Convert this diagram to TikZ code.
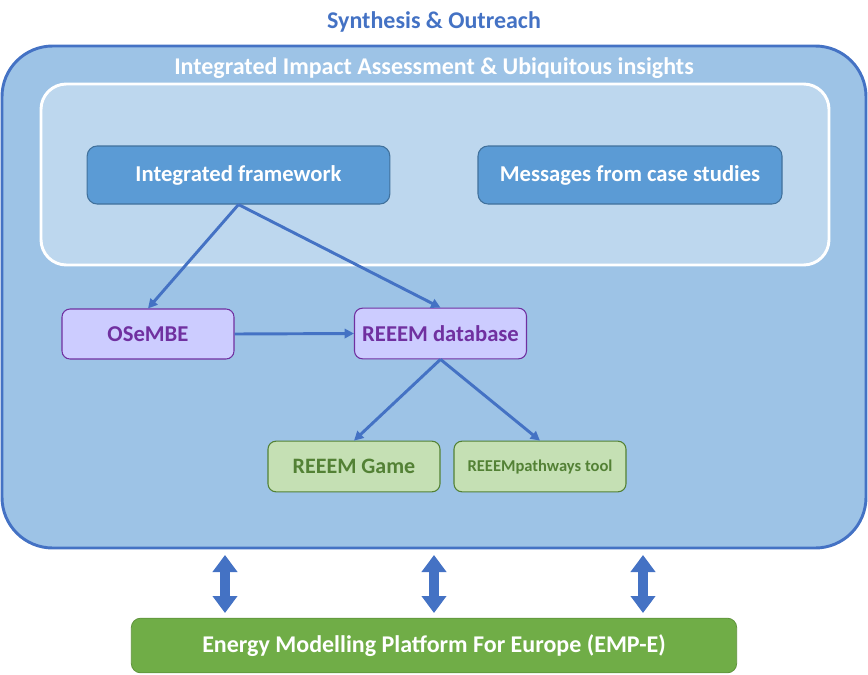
\documentclass[tikz,border=0pt]{standalone}
\usepackage{fontspec}
\setmainfont{Carlito}
\usetikzlibrary{arrows.meta}
\definecolor{outerfill}{HTML}{9DC3E6}
\definecolor{outerline}{HTML}{4472C4}
\definecolor{innerfill}{HTML}{BDD7EE}
\definecolor{bluebox}{HTML}{5B9BD5}
\definecolor{blueline}{HTML}{41719C}
\definecolor{purpfill}{HTML}{CCCCFF}
\definecolor{purpline}{HTML}{7030A0}
\definecolor{greenfill}{HTML}{C5E0B4}
\definecolor{greenline}{HTML}{538135}
\definecolor{empfill}{HTML}{70AD47}
\tikzset{
  bluenode/.style={draw=blueline, fill=bluebox, rounded corners=7.5pt, line width=0.8pt, text=white, font=\bfseries\fontsize{17}{20}\selectfont},
  purpnode/.style={draw=purpline, fill=purpfill, rounded corners=6pt, line width=0.8pt, text=purpline, font=\bfseries\fontsize{17}{20}\selectfont},
  greennode/.style={draw=greenline, fill=greenfill, rounded corners=6pt, line width=0.8pt, text=greenline, font=\bfseries\fontsize{16.5}{20}\selectfont},
  conn/.style={draw=outerline, line width=2.2pt, -{Triangle[length=7pt,width=7pt]}},
  fatarrow/.style={draw=outerline, line width=7.5pt, {Triangle[length=12.75pt,width=18pt]}-{Triangle[length=12.75pt,width=18pt]}}
}
\begin{document}
\begin{tikzpicture}[x=0.75pt,y=-0.75pt]
\useasboundingbox (0,0) rectangle (868,675);
\node[font=\bfseries\fontsize{18}{21}\selectfont, text=outerline] (title) at (434,22) {Synthesis \& Outreach};
\draw[draw=outerline, fill=outerfill, line width=2.2pt, rounded corners=38pt] (2,46) rectangle (866,548);
\node[font=\bfseries\fontsize{18}{21}\selectfont, text=white] (iia) at (434,68) {Integrated Impact Assessment \& Ubiquitous insights};
\draw[draw=white, fill=innerfill, line width=2.2pt, rounded corners=19pt] (41,84) rectangle (829,265);
\node[bluenode, minimum width=227pt, minimum height=43.5pt] (ifw) at (238.5,175) {Integrated framework};
\node[bluenode, minimum width=228pt, minimum height=43.5pt] (msg) at (630,175) {Messages from case studies};
\node[purpnode, minimum width=129pt, minimum height=37.5pt] (osembe) at (148,334) {OSeMBE};
\node[purpnode, minimum width=129pt, minimum height=38pt] (db) at (440.5,333.5) {REEEM database};
\node[greennode, minimum width=129pt, minimum height=38pt] (game) at (354,466.5) {REEEM Game};
\node[greennode, minimum width=129pt, minimum height=38pt, font=\bfseries\fontsize{12.4}{15}\selectfont] (path) at (540,466.5) {REEEMpathways tool};
\node[draw=empfill!85!black, fill=empfill, rounded corners=7pt, line width=0.6pt, minimum width=454pt, minimum height=41pt, text=white, font=\bfseries\fontsize{18}{21}\selectfont] (emp) at (434,645.5) {Energy Modelling Platform For Europe (EMP-E)};
\draw[conn] (ifw.south) -- (osembe.north);
\draw[conn] (ifw.south) -- (db.north);
\draw[conn] (osembe.east) -- (db.west);
\draw[conn] (db.south) -- (game.north);
\draw[conn] (db.south) -- (path.north);
\foreach \i/\x in {1/225,2/434,3/643}{
  \coordinate (t\i) at (\x,555);
  \coordinate (b\i) at (\x,613);
  \draw[fatarrow] (t\i) -- (b\i);
}
\end{tikzpicture}
\end{document}
